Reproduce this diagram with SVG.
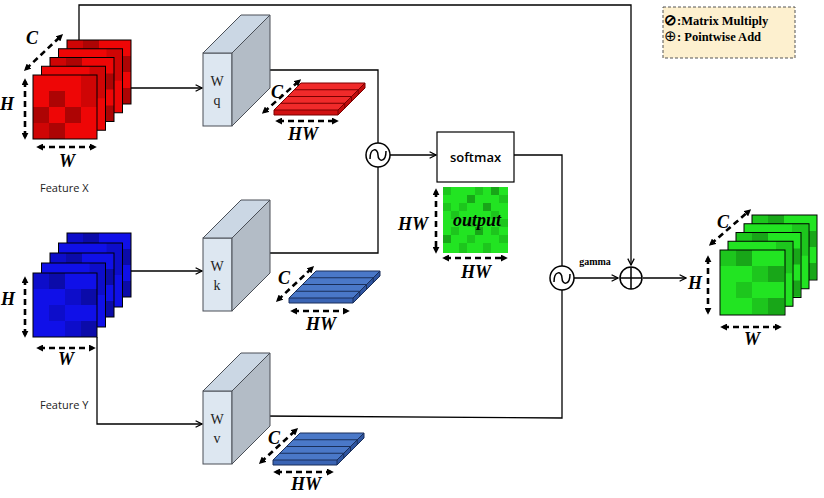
<svg xmlns="http://www.w3.org/2000/svg" xmlns:xlink="http://www.w3.org/1999/xlink" width="824" height="498" viewBox="0 0 824 498">
<style>
.ln{fill:none;stroke:#000;stroke-width:1.3}
.da{fill:none;stroke:#000;stroke-width:2.6;stroke-dasharray:6 4}
.lab{font-family:"Liberation Serif",serif;font-weight:bold;font-style:italic;font-size:18px;text-anchor:middle;fill:#000}
.feat{font-family:"Open Sans","Liberation Sans",sans-serif;font-size:11px;fill:#222}
.wt{font-family:"Liberation Serif",serif;font-size:14px;text-anchor:middle;fill:#222}
.edge{fill:none;stroke:#000;stroke-width:1}
.dk{fill:#000;fill-opacity:.13}
.dk2{fill:#000;fill-opacity:.27}
.lt{fill:#fff;fill-opacity:0}
.leg{font-family:"Liberation Serif",serif;font-weight:bold;font-size:12.5px;fill:#000}
</style>
<defs>
<marker id="arr" viewBox="0 0 10 10" refX="9" refY="5" markerWidth="8" markerHeight="8" orient="auto-start-reverse" markerUnits="userSpaceOnUse"><path d="M1,1 L9,5 L1,9" fill="none" stroke="#000" stroke-width="1.6"/></marker>
<marker id="dh" viewBox="0 0 10 10" refX="6" refY="5" markerWidth="7" markerHeight="7" orient="auto-start-reverse" markerUnits="userSpaceOnUse"><path d="M0,0 L10,5 L0,10 z" fill="#000"/></marker>
<g id="shA">
<rect class="dk" x="48" y="0" width="16" height="16"/>
<rect class="dk2" x="16" y="16" width="16" height="16"/><rect class="dk" x="48" y="16" width="16" height="16"/>
<rect class="dk2" x="0" y="32" width="16" height="16"/><rect class="dk2" x="32" y="32" width="16" height="16"/>
<rect class="dk" x="0" y="48" width="16" height="16"/><rect class="dk2" x="16" y="48" width="16" height="16"/>
</g>
<g id="shB">
<rect class="dk" x="0" y="0" width="16" height="16"/><rect class="dk2" x="16" y="0" width="16" height="16"/>
<rect class="dk" x="32" y="16" width="16" height="16"/><rect class="dk2" x="48" y="16" width="16" height="16"/>
<rect class="dk" x="16" y="32" width="16" height="16"/>
<rect class="dk" x="32" y="48" width="16" height="16"/><rect class="dk2" x="48" y="48" width="16" height="16"/>
</g>
<g id="wbox">
<rect x="0" y="0" width="29" height="73" fill="#dde7f1" stroke="#4a4f57" stroke-width="1"/>
<path d="M0,0 L38,-38 L67,-38 L29,0 Z" fill="#cbd7e4" stroke="#4a4f57" stroke-width="1"/>
<path d="M29,0 L67,-38 L67,35 L29,73 Z" fill="#b3bcc6" stroke="#4a4f57" stroke-width="1"/>
</g>
<g id="slabLines" fill="none" stroke-width="1">
<path d="M0,-5 L64,-5 L91,-32 L27,-32 Z M6.75,-11.75 L70.75,-11.75 M13.5,-18.5 L77.5,-18.5 M20.25,-25.25 L84.25,-25.25 M70.75,-11.75 V-6.75 M77.5,-18.5 V-13.5 M84.25,-25.25 V-20.25 M0,-5 V0 H64 V-5 M64,0 L91,-27 V-32"/>
</g>
<g id="mm"><circle r="12" fill="#fff" stroke="#000" stroke-width="1.5"/><path d="M-8,4 C-8,-8 0,-7 0,0 C0,7 8,8 8,-4" fill="none" stroke="#000" stroke-width="1.5"/></g>
</defs>

<rect width="824" height="498" fill="#fff"/>

<g id="legend">
<rect x="663" y="7" width="132" height="51" fill="#fdf0cf" stroke="#555" stroke-width="1" stroke-dasharray="3 2"/>
<text class="leg" x="664" y="25"><tspan font-size="15px">⊘</tspan>:Matrix Multiply</text>
<text class="leg" x="664" y="41"><tspan font-size="15px" font-weight="normal">⊕</tspan>: Pointwise Add</text>
</g>

<g id="connectors">
<polyline class="ln" points="79,40 79,5 631,5 631,265" marker-end="url(#arr)"/>
<line class="ln" x1="131" y1="88" x2="202" y2="88" marker-end="url(#arr)"/>
<line class="ln" x1="131" y1="271" x2="202" y2="271" marker-end="url(#arr)"/>
<polyline class="ln" points="97,337 97,424 202,424" marker-end="url(#arr)"/>
<polyline class="ln" points="262,70 378,70 378,143"/>
<polyline class="ln" points="262,253 378,253 378,167"/>
<line class="ln" x1="390" y1="155" x2="436" y2="155" marker-end="url(#arr)"/>
<polyline class="ln" points="514,155 562,155 562,266"/>
<polyline class="ln" points="262,416 562,418 562,290"/>
<line class="ln" x1="574" y1="278" x2="618" y2="278" marker-end="url(#arr)"/>
<line class="ln" x1="643" y1="278" x2="686" y2="278" marker-end="url(#arr)"/>
</g>

<g id="featureX">
<g transform="translate(67,40)"><rect width="64" height="64" fill="#ee0606"/><use href="#shB"/><rect class="edge" width="64" height="64"/></g>
<g transform="translate(58.5,48.75)"><rect width="64" height="64" fill="#ee0606"/><use href="#shA"/><rect class="edge" width="64" height="64"/></g>
<g transform="translate(50,57.5)"><rect width="64" height="64" fill="#ee0606"/><use href="#shB"/><rect class="edge" width="64" height="64"/></g>
<g transform="translate(41.5,66.25)"><rect width="64" height="64" fill="#ee0606"/><use href="#shA"/><rect class="edge" width="64" height="64"/></g>
<g transform="translate(33,75)"><rect width="64" height="64" fill="#ee0606"/><use href="#shA"/><rect class="edge" width="64" height="64"/></g>
<line class="da" x1="26" y1="69" x2="61" y2="36" marker-start="url(#dh)" marker-end="url(#dh)"/>
<line class="da" x1="25" y1="81" x2="25" y2="137" marker-start="url(#dh)" marker-end="url(#dh)"/>
<line class="da" x1="39" y1="147" x2="94" y2="147" marker-start="url(#dh)" marker-end="url(#dh)"/>
<text class="lab" x="32" y="44">C</text>
<text class="lab" x="7" y="110">H</text>
<text class="lab" x="67" y="167">W</text>
<text class="feat" x="40" y="192">Feature X</text>
</g>

<g id="featureY">
<g transform="translate(67,233)"><rect width="64" height="64" fill="#1010e8"/><use href="#shB"/><rect class="edge" width="64" height="64"/></g>
<g transform="translate(58.5,243)"><rect width="64" height="64" fill="#1010e8"/><use href="#shA"/><rect class="edge" width="64" height="64"/></g>
<g transform="translate(50,253)"><rect width="64" height="64" fill="#1010e8"/><use href="#shB"/><rect class="edge" width="64" height="64"/></g>
<g transform="translate(41.5,263)"><rect width="64" height="64" fill="#1010e8"/><use href="#shA"/><rect class="edge" width="64" height="64"/></g>
<g transform="translate(33,273)"><rect width="64" height="64" fill="#1010e8"/><use href="#shB"/><rect class="edge" width="64" height="64"/></g>
<line class="da" x1="25" y1="279" x2="25" y2="335" marker-start="url(#dh)" marker-end="url(#dh)"/>
<line class="da" x1="39" y1="348" x2="93" y2="348" marker-start="url(#dh)" marker-end="url(#dh)"/>
<text class="lab" x="8" y="305">H</text>
<text class="lab" x="66" y="365">W</text>
<text class="feat" x="40" y="409">Feature Y</text>
</g>

<g id="Wq">
<use href="#wbox" x="203" y="53"/>
<text class="wt" x="217" y="86">W</text>
<text class="wt" x="217" y="105">q</text>
</g>
<g id="Wk">
<use href="#wbox" x="203" y="238"/>
<text class="wt" x="217" y="271">W</text>
<text class="wt" x="217" y="290">k</text>
</g>
<g id="Wv">
<use href="#wbox" x="203" y="391"/>
<text class="wt" x="217" y="424">W</text>
<text class="wt" x="217" y="443">v</text>
</g>

<g id="queryTensor">
<g transform="translate(274,115)">
<path d="M0,-5 L64,-5 L91,-32 L27,-32 Z" fill="#f02a2a"/>
<rect x="0" y="-5" width="64" height="5" fill="#d01010"/>
<path d="M64,0 L91,-27 V-32 L64,-5 Z" fill="#c00c0c"/>
<use href="#slabLines" stroke="#7a0000"/>
</g>
<line class="da" x1="264" y1="112" x2="299" y2="81" marker-start="url(#dh)" marker-end="url(#dh)"/>
<line class="da" x1="278" y1="121" x2="336" y2="121" marker-start="url(#dh)" marker-end="url(#dh)"/>
<text class="lab" x="277" y="98">C</text>
<text class="lab" x="303" y="140">HW</text>
</g>

<g id="keyTensor">
<g transform="translate(289,303)">
<path d="M0,-5 L64,-5 L91,-32 L27,-32 Z" fill="#4a78c8"/>
<rect x="0" y="-5" width="64" height="5" fill="#3a64b4"/>
<path d="M64,0 L91,-27 V-32 L64,-5 Z" fill="#2f55a0"/>
<use href="#slabLines" stroke="#1a2f5a"/>
</g>
<line class="da" x1="278" y1="300" x2="312" y2="268" marker-start="url(#dh)" marker-end="url(#dh)"/>
<line class="da" x1="293" y1="311" x2="347" y2="311" marker-start="url(#dh)" marker-end="url(#dh)"/>
<text class="lab" x="284" y="284">C</text>
<text class="lab" x="321" y="330">HW</text>
</g>

<g id="valueTensor">
<g transform="translate(273,465)">
<path d="M0,-5 L64,-5 L91,-32 L27,-32 Z" fill="#4a78c8"/>
<rect x="0" y="-5" width="64" height="5" fill="#3a64b4"/>
<path d="M64,0 L91,-27 V-32 L64,-5 Z" fill="#2f55a0"/>
<use href="#slabLines" stroke="#1a2f5a"/>
</g>
<line class="da" x1="261" y1="462" x2="296" y2="430" marker-start="url(#dh)" marker-end="url(#dh)"/>
<line class="da" x1="276" y1="472" x2="331" y2="472" marker-start="url(#dh)" marker-end="url(#dh)"/>
<text class="lab" x="274" y="444">C</text>
<text class="lab" x="306" y="490">HW</text>
</g>

<g id="mult1"><use href="#mm" x="378" y="155"/></g>
<g id="mult2"><use href="#mm" x="562" y="278"/></g>

<g id="softmax">
<rect x="437" y="132" width="77" height="50" fill="#fff" stroke="#000" stroke-width="1.2"/>
<text x="475.5" y="162" font-family="Open Sans,Liberation Sans,sans-serif" font-size="13px" font-weight="600" text-anchor="middle">softmax</text>
</g>

<g id="attention">
<rect x="443" y="187" width="65" height="66" fill="#22e422"/>
<g transform="translate(443,187)">
<rect class="dk" x="0" y="0" width="8" height="8"/><rect class="dk" x="32" y="0" width="8" height="8"/><rect class="dk2" x="48" y="0" width="8" height="8"/>
<rect class="dk2" x="24" y="8" width="8" height="8"/><rect class="dk" x="56" y="8" width="9" height="8"/>
<rect class="dk" x="0" y="16" width="8" height="8"/><rect class="dk" x="16" y="16" width="8" height="8"/><rect class="dk2" x="40" y="16" width="8" height="8"/>
<rect class="dk" x="8" y="24" width="8" height="8"/><rect class="dk" x="48" y="24" width="8" height="8"/>
<rect class="dk" x="24" y="32" width="8" height="8"/><rect class="dk" x="56" y="32" width="9" height="8"/>
<rect class="dk" x="8" y="40" width="8" height="8"/><rect class="dk2" x="32" y="40" width="8" height="8"/><rect class="dk" x="48" y="40" width="8" height="8"/>
<rect class="dk2" x="0" y="48" width="8" height="8"/><rect class="dk" x="24" y="48" width="8" height="8"/><rect class="dk" x="56" y="48" width="9" height="8"/>
<rect class="dk" x="16" y="56" width="8" height="10"/><rect class="dk" x="40" y="56" width="8" height="10"/>
</g>
<line class="da" x1="436" y1="191" x2="436" y2="251" marker-start="url(#dh)" marker-end="url(#dh)"/>
<line class="da" x1="445" y1="258" x2="505" y2="258" marker-start="url(#dh)" marker-end="url(#dh)"/>
<text class="lab" x="477" y="226" font-size="16px">output</text>
<text class="lab" x="413" y="230">HW</text>
<text class="lab" x="476" y="278">HW</text>
</g>

<g id="gammaLabel"><text x="595" y="265" font-family="Liberation Serif,serif" font-weight="bold" font-size="10px" text-anchor="middle">gamma</text></g>

<g id="add">
<circle cx="631" cy="278" r="11" fill="#fff" stroke="#000" stroke-width="1.5"/>
<path d="M620,278 H642 M631,267 V289" stroke="#000" stroke-width="1.5"/>
</g>

<g id="outputFeature">
<g transform="translate(752,215)"><rect width="65" height="65" fill="#22e422"/><use href="#shB"/><rect class="edge" width="65" height="65"/></g>
<g transform="translate(744,223.75)"><rect width="65" height="65" fill="#22e422"/><use href="#shA"/><rect class="edge" width="65" height="65"/></g>
<g transform="translate(736,232.5)"><rect width="65" height="65" fill="#22e422"/><use href="#shB"/><rect class="edge" width="65" height="65"/></g>
<g transform="translate(728,241.25)"><rect width="65" height="65" fill="#22e422"/><use href="#shA"/><rect class="edge" width="65" height="65"/></g>
<g transform="translate(720,250)"><rect width="65" height="65" fill="#22e422"/><use href="#shB"/><rect class="edge" width="65" height="65"/></g>
<line class="da" x1="711" y1="244" x2="749" y2="211" marker-start="url(#dh)" marker-end="url(#dh)"/>
<line class="da" x1="708" y1="258" x2="708" y2="312" marker-start="url(#dh)" marker-end="url(#dh)"/>
<line class="da" x1="723" y1="327" x2="779" y2="327" marker-start="url(#dh)" marker-end="url(#dh)"/>
<text class="lab" x="723" y="228">C</text>
<text class="lab" x="695" y="289">H</text>
<text class="lab" x="752" y="345">W</text>
</g>
</svg>
